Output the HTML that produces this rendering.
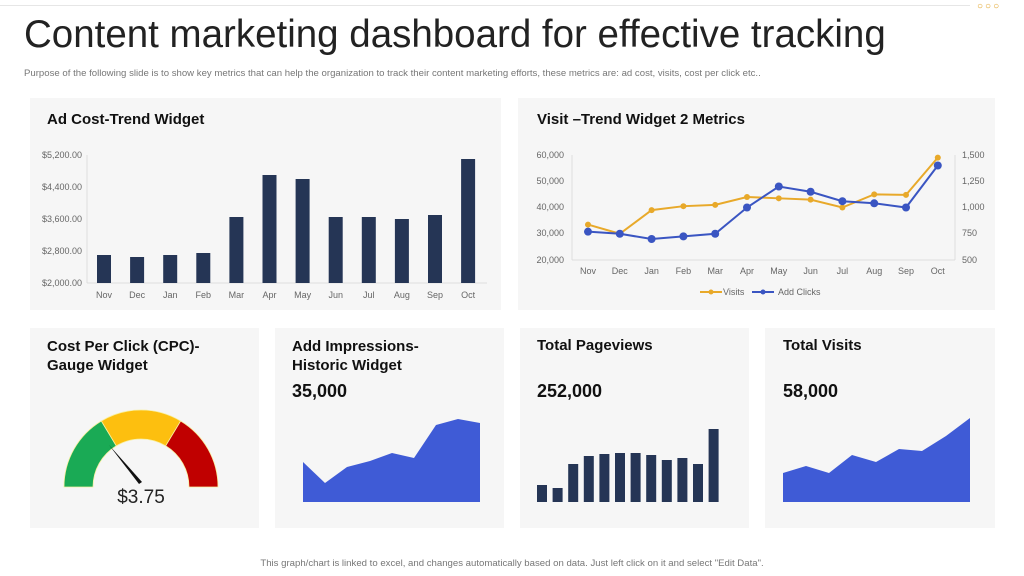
<!DOCTYPE html><html><head><style>
body{margin:0;width:1024px;height:576px;background:#fff;font-family:"Liberation Sans",sans-serif;position:relative;overflow:hidden}
.p{position:absolute;background:#f6f6f6}
.t{position:absolute;font-weight:bold;font-size:15px;color:#111}
svg text{font-family:"Liberation Sans",sans-serif}
</style></head><body>
<div style="position:absolute;left:0;top:5px;width:970px;height:1px;background:#e6e6e6"></div>
<div style="position:absolute;left:977px;top:1px;font-size:10px;color:#e0a020;letter-spacing:2px">○○○</div>
<div style="position:absolute;left:24px;top:13px;font-size:38.5px;color:#222">Content marketing dashboard for effective tracking</div>
<div style="position:absolute;left:24px;top:68px;font-size:9.6px;color:#777">Purpose of the following slide is to show key metrics that can help the organization to track their content marketing efforts, these metrics are: ad cost, visits, cost per click etc..</div>
<div class="p" style="left:30px;top:98px;width:471px;height:212px"></div>
<div class="p" style="left:518px;top:98px;width:477px;height:212px"></div>
<div class="p" style="left:30px;top:328px;width:229px;height:200px"></div>
<div class="p" style="left:275px;top:328px;width:229px;height:200px"></div>
<div class="p" style="left:520px;top:328px;width:229px;height:200px"></div>
<div class="p" style="left:765px;top:328px;width:230px;height:200px"></div>
<div class="t" style="left:47px;top:111px">Ad Cost-Trend Widget</div>
<div class="t" style="left:537px;top:111px">Visit –Trend Widget 2 Metrics</div>
<div class="t" style="left:47px;top:337px;line-height:19px">Cost Per Click (CPC)-<br>Gauge Widget</div>
<div class="t" style="left:292px;top:337px;line-height:19px">Add Impressions-<br>Historic Widget</div>
<div class="t" style="left:537px;top:337px">Total Pageviews</div>
<div class="t" style="left:783px;top:337px">Total Visits</div>
<div class="t" style="left:292px;top:381px;font-size:18px">35,000</div>
<div class="t" style="left:537px;top:381px;font-size:18px">252,000</div>
<div class="t" style="left:783px;top:381px;font-size:18px">58,000</div>
<svg width="1024" height="576" style="position:absolute;left:0;top:0">
<g font-size="9" fill="#666">
<text x="82" y="158" text-anchor="end">$5,200.00</text>
<text x="82" y="190" text-anchor="end">$4,400.00</text>
<text x="82" y="222" text-anchor="end">$3,600.00</text>
<text x="82" y="254" text-anchor="end">$2,800.00</text>
<text x="82" y="286" text-anchor="end">$2,000.00</text>
</g>
<line x1="87" y1="155" x2="87" y2="283" stroke="#ddd"/><line x1="87" y1="283" x2="487" y2="283" stroke="#ddd"/>
<g fill="#253555" id="bars"></g>
<g font-size="9" fill="#666" text-anchor="middle" id="bl"></g>
<g font-size="9" fill="#666">
<text x="564" y="158" text-anchor="end">60,000</text><text x="564" y="184" text-anchor="end">50,000</text>
<text x="564" y="210" text-anchor="end">40,000</text><text x="564" y="236" text-anchor="end">30,000</text>
<text x="564" y="263" text-anchor="end">20,000</text>
<text x="962" y="158">1,500</text><text x="962" y="184">1,250</text><text x="962" y="210">1,000</text>
<text x="962" y="236">750</text><text x="962" y="263">500</text>
</g>
<line x1="572" y1="155" x2="572" y2="260" stroke="#ddd"/><line x1="572" y1="260" x2="955" y2="260" stroke="#ddd"/><line x1="955" y1="155" x2="955" y2="260" stroke="#ddd"/>
<g id="lines"></g>
<g font-size="9" fill="#666" text-anchor="middle" id="ll"></g>
<line x1="700" y1="292" x2="722" y2="292" stroke="#e8a92a" stroke-width="2"/><circle cx="711" cy="292" r="2.5" fill="#e8a92a"/>
<text x="723" y="295" font-size="9" fill="#666">Visits</text>
<line x1="752" y1="292" x2="774" y2="292" stroke="#3a55c2" stroke-width="2"/><circle cx="763" cy="292" r="2.5" fill="#3a55c2"/>
<text x="778" y="295" font-size="9" fill="#666">Add Clicks</text>
<g id="gauge"></g>
<polygon points="109,445 142,482 139,484" fill="#111"/>
<text x="141" y="503" font-size="19" fill="#222" text-anchor="middle">$3.75</text>
<polygon points="303,502 303,462 325,483 347,467 370,461 392,453 414,458 436,425 458,419 480,423 480,502" fill="#3f5bd6"/>
<polygon points="783,502 783,473 806,466 829,473 852,455 876,462 899,449 922,451 946,436 970,418 970,502" fill="#3f5bd6"/>
<g fill="#253555" id="pv"></g>
</svg>
<div style="position:absolute;left:0;width:1024px;top:558px;text-align:center;font-size:9.6px;color:#777">This graph/chart is linked to excel, and changes automatically based on data. Just left click on it and select "Edit Data".</div>
<script>
var m=["Nov","Dec","Jan","Feb","Mar","Apr","May","Jun","Jul","Aug","Sep","Oct"],N="http://www.w3.org/2000/svg";
function el(p,t,a,tx){var e=document.createElementNS(N,t);for(var k in a)e.setAttribute(k,a[k]);if(tx)e.textContent=tx;document.getElementById(p).appendChild(e);}
var v=[2700,2650,2700,2750,3650,4700,4600,3650,3650,3600,3700,5100];
for(var i=0;i<12;i++){var x=104+i*33.1,y=283-(v[i]-2000)*0.04;el("bars","rect",{x:x-7,y:y,width:14,height:283-y});el("bl","text",{x:x,y:298},m[i]);}
var vs=[33500,30000,39000,40500,41000,44000,43500,43000,40000,45000,44800,59000],cl=[770,750,700,725,750,1000,1200,1150,1060,1040,1000,1400];
var a="",b="";for(i=0;i<12;i++){var x=588+i*31.8;a+=x+","+(260-(vs[i]-20000)*105/40000)+" ";b+=x+","+(260-(cl[i]-500)*0.105)+" ";el("ll","text",{x:x,y:274},m[i]);}
el("lines","polyline",{points:a,fill:"none",stroke:"#e8a92a","stroke-width":2});
el("lines","polyline",{points:b,fill:"none",stroke:"#3a55c2","stroke-width":2});
a.trim().split(" ").forEach(function(p){p=p.split(",");el("lines","circle",{cx:p[0],cy:p[1],r:3,fill:"#e8a92a"})});
b.trim().split(" ").forEach(function(p){p=p.split(",");el("lines","circle",{cx:p[0],cy:p[1],r:4,fill:"#3a55c2"})});
function arc(a1,a2,c){var cx=141,cy=487,R=77,r=48,f=Math.PI/180;function P(rr,a){return (cx+rr*Math.cos(a*f))+","+(cy-rr*Math.sin(a*f));}
el("gauge","path",{d:"M"+P(R,a1)+" A77,77 0 0 1 "+P(R,a2)+" L"+P(r,a2)+" A48,48 0 0 0 "+P(r,a1)+"Z",fill:c,stroke:"#f8f0a0","stroke-width":0.8});}
arc(180,121,"#1aaa55");arc(121,59,"#fdbf0f");arc(59,0,"#c00000");
var pt=[485,488,464,456,454,453,453,455,460,458,464,429];
for(i=0;i<12;i++){var x=537+i*15.6;el("pv","rect",{x:x,y:pt[i],width:10,height:502-pt[i]});}
</script>
</body></html>
